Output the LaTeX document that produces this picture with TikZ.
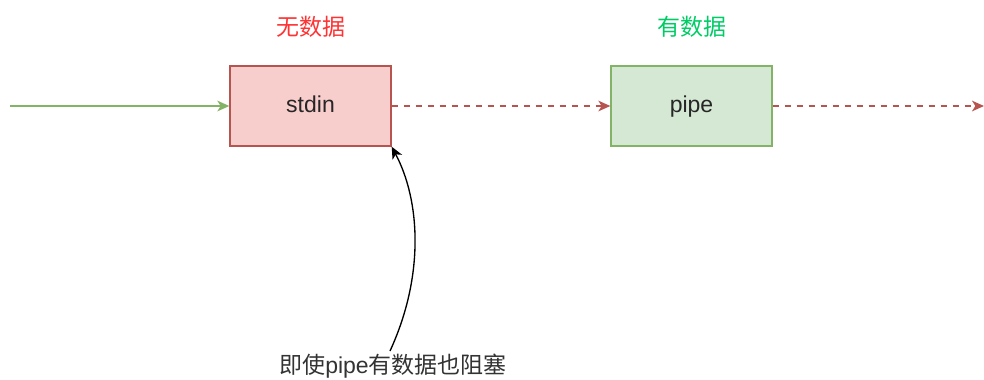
\documentclass[tikz,border=0pt]{standalone}
\usepackage{fontspec}
\setmainfont{Liberation Sans}
\newfontfamily\cjk{Noto Sans CJK SC}
\usetikzlibrary{arrows.meta}
\definecolor{redfill}{HTML}{F8CECC}
\definecolor{redline}{HTML}{B85450}
\definecolor{greenfill}{HTML}{D5E8D4}
\definecolor{greenline}{HTML}{82B366}
\definecolor{redtext}{HTML}{FF3333}
\definecolor{greentext}{HTML}{00CC66}
\begin{document}
\begin{tikzpicture}[x=0.75pt,y=-0.75pt,
  box/.style={draw, line width=1pt, minimum width=120.75pt, minimum height=60pt, inner sep=0pt, text height=12.5pt, text depth=3.5pt, font=\fontsize{17.25pt}{20pt}\selectfont, text=black!85},
  tip/.style={-{Stealth[length=9pt,width=8pt,inset=2.5pt]}},
  lbl/.style={font=\fontsize{17.25pt}{20pt}\selectfont, inner sep=0pt}]
\useasboundingbox (0,0) rectangle (984,379);
\node[box, fill=redfill, draw=redline] (stdin) at (310.5,106) {stdin};
\node[box, fill=greenfill, draw=greenline] (pipe) at (691.5,106) {pipe};
\coordinate (start) at (10,106);
\coordinate (out) at (984,106);
\node[lbl, text=redtext] (l1) at (310.5,27) {\cjk 无数据};
\node[lbl, text=greentext] (l2) at (691.5,27) {\cjk 有数据};
\node[lbl, text=black!80] (note) at (393,366) {{\cjk 即使}pipe{\cjk 有数据也阻塞}};
\draw[tip, greenline, line width=1pt] (start) -- (stdin.west);
\draw[tip, redline, line width=1pt, dash pattern=on 4.5pt off 4.5pt] (stdin.east) -- (pipe.west);
\draw[tip, redline, line width=1pt, dash pattern=on 4.5pt off 4.5pt] (pipe.east) -- (out);
\draw[tip, black, line width=1pt] (390,351) coordinate (n0) .. controls (425,275) and (420,200) .. (stdin.south east);
\end{tikzpicture}
\end{document}
